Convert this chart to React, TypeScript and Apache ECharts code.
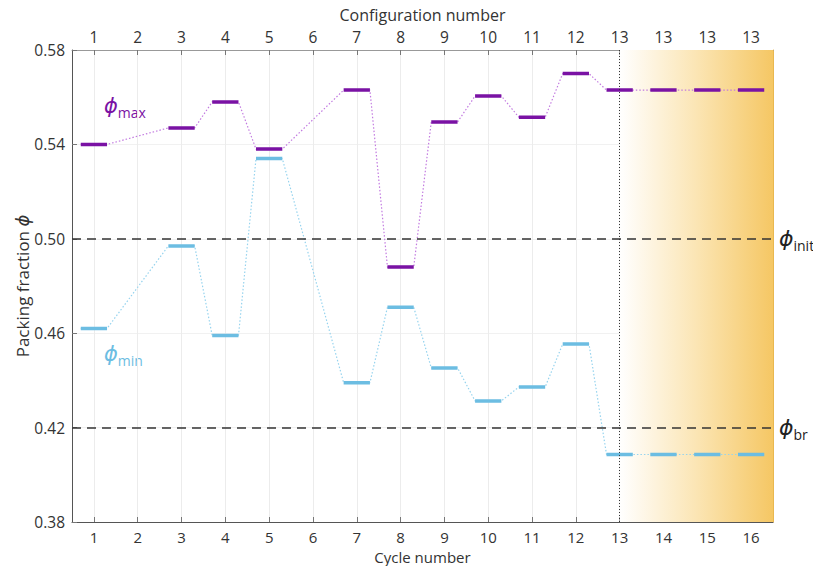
import React, { useEffect, useRef } from "react";
import * as echarts from "echarts";

const cycles = [1, 2, 3, 4, 5, 6, 7, 8, 9, 10, 11, 12, 13, 14, 15, 16];
const configLabels = ["1", "2", "3", "4", "5", "6", "7", "8", "9", "10", "11", "12", "13", "13", "13", "13"];
const phiMax: (number | null)[] = [0.540, null, 0.547, 0.558, 0.538, null, 0.563, 0.488, 0.5495, 0.5605, 0.5515, 0.570, 0.563, 0.563, 0.563, 0.563];
const phiMin: (number | null)[] = [0.462, null, 0.497, 0.459, 0.534, null, 0.439, 0.471, 0.4453, 0.4313, 0.4372, 0.4554, 0.4086, 0.4086, 0.4086, 0.4086];
const yTicks = [0.38, 0.42, 0.46, 0.5, 0.54, 0.58];
const phiInit = 0.5;
const phiBr = 0.42;
const transitionCycle = 13;

const PURPLE = "#7A12A4";
const PURPLE_LIGHT = "#C27AE0";
const BLUE = "#6CBDE2";
const BLUE_LIGHT = "#95D3EE";
const HALF = 0.3;
const FONT = "Open Sans";
const TEXT = "#333333";

function segments(vals: (number | null)[]) {
  const out: any[] = [];
  cycles.forEach((c, i) => {
    const v = vals[i];
    if (v == null) return;
    out.push([c - HALF, v], [c + HALF, v], [c + HALF, "-"]);
  });
  return out;
}
function connectors(vals: (number | null)[]) {
  const out: any[] = [];
  cycles.forEach((c, i) => {
    const v = vals[i];
    if (v == null) return;
    out.push([c - HALF, v], [c + HALF, v]);
  });
  return out;
}

const phiRich = (color: string) => ({
  p: { fontSize: 22, lineHeight: 28, fontStyle: "italic", fontFamily: "DejaVu Sans", color, verticalAlign: "middle" },
  s: { fontSize: 14, lineHeight: 14, fontFamily: FONT, color, verticalAlign: "bottom" },
});
const phiRichFill = (color: string) => ({
  p: { fontSize: 21, lineHeight: 26, fontStyle: "italic", fontFamily: "DejaVu Sans", fill: color, verticalAlign: "middle" },
  s: { fontSize: 14, lineHeight: 14, fontFamily: FONT, fill: color, verticalAlign: "bottom" },
});

export default function App() {
  const ref = useRef<HTMLDivElement>(null);
  useEffect(() => {
    if (!ref.current) return;
    const chart = echarts.init(ref.current, undefined, { renderer: "svg" });
    const xCommon = {
      type: "value",
      min: 0.5,
      max: 16.5,
      axisTick: { show: true, inside: true, length: 5, customValues: cycles, lineStyle: { color: "#777" } },
    };
    chart.setOption({
      animation: false,
      backgroundColor: "#ffffff",
      grid: { left: 72, right: 40, top: 50, bottom: 44, outerBoundsMode: "none", containLabel: false },
      xAxis: [
        {
          ...xCommon,
          position: "bottom",
          name: "Cycle number",
          nameLocation: "middle",
          nameGap: 27,
          nameMoveOverlap: false,
          nameTextStyle: { fontFamily: FONT, fontSize: 15, color: TEXT },
          axisLine: { show: true, lineStyle: { color: "#555", width: 1 } },
          axisLabel: { customValues: cycles, fontFamily: FONT, fontSize: 15, color: TEXT, margin: 7 },
          splitLine: { show: true, lineStyle: { color: "#ececec", width: 1 } },
        },
        {
          ...xCommon,
          position: "top",
          name: "Configuration number",
          nameLocation: "middle",
          nameGap: 27,
          nameMoveOverlap: false,
          nameTextStyle: { fontFamily: FONT, fontSize: 16, color: TEXT },
          axisLine: { show: true, lineStyle: { color: "#999", width: 1 } },
          axisLabel: {
            customValues: cycles,
            fontFamily: FONT,
            fontSize: 15.5,
            color: TEXT,
            margin: 5,
            formatter: (v: number) => configLabels[Math.round(v) - 1] ?? "",
          },
          splitLine: { show: false },
        },
      ],
      yAxis: [
        {
          type: "value",
          min: 0.38,
          max: 0.58,
          name: "Packing fraction {i|ϕ}",
          nameLocation: "middle",
          nameGap: 41,
          nameRotate: 90,
          nameMoveOverlap: false,
          nameTextStyle: {
            fontFamily: FONT,
            fontSize: 17,
            color: TEXT,
            rich: { i: { fontFamily: "DejaVu Sans", fontStyle: "italic", fontSize: 18, color: TEXT } },
          },
          axisLine: { show: true, lineStyle: { color: "#555", width: 1 } },
          axisTick: { show: true, inside: true, length: 5, customValues: yTicks, lineStyle: { color: "#777" } },
          axisLabel: {
            customValues: yTicks,
            fontFamily: FONT,
            fontSize: 15.5,
            color: TEXT,
            margin: 7,
            formatter: (v: number) => v.toFixed(2),
          },
          splitLine: { show: true, lineStyle: { color: "#f1f1f1", width: 1 } },
        },
        {
          type: "value",
          min: 0.38,
          max: 0.58,
          position: "right",
          axisLine: { show: true, lineStyle: { color: "#E9B850", width: 1 } },
          axisTick: { show: false },
          axisLabel: { show: false },
          splitLine: { show: false },
        },
      ],
      graphic: [
        {
          type: "text",
          x: 104,
          y: 93,
          style: { text: "{p|ϕ}{s|max}", rich: phiRichFill(PURPLE) },
        },
        {
          type: "text",
          x: 104,
          y: 341,
          style: { text: "{p|ϕ}{s|min}", rich: phiRichFill(BLUE) },
        },
      ],
      series: [
        {
          type: "line",
          data: connectors(phiMax),
          symbol: "none",
          lineStyle: { color: PURPLE_LIGHT, width: 1.2, type: [1.5, 2] },
          z: 2,
          markArea: {
            silent: true,
            itemStyle: {
              opacity: 1,
              color: new echarts.graphic.LinearGradient(0, 0, 1, 0, [
                { offset: 0, color: "#FFFFFF" },
                { offset: 0.5, color: "#FBE5B4" },
                { offset: 1, color: "#F5C764" },
              ]),
            },
            data: [[{ xAxis: transitionCycle }, { xAxis: 16.5 }]],
          },
        },
        {
          type: "line",
          data: connectors(phiMin),
          symbol: "none",
          lineStyle: { color: BLUE_LIGHT, width: 1.2, type: [1.5, 2] },
          z: 2,
          markLine: {
            silent: true,
            symbol: "none",
            data: [
              {
                yAxis: phiInit,
                lineStyle: { color: "#333", width: 1.5, type: [9, 6] },
                label: { show: true, position: "end", distance: 6, formatter: "{p|ϕ}{s|init}", rich: phiRich("#222") },
              },
              {
                yAxis: phiBr,
                lineStyle: { color: "#333", width: 1.5, type: [9, 6] },
                label: { show: true, position: "end", distance: 6, formatter: "{p|ϕ}{s|br}", rich: phiRich("#222") },
              },
              {
                xAxis: transitionCycle,
                lineStyle: { color: "#333", width: 1, type: [1, 2] },
                label: { show: false },
              },
            ],
          },
        },
        {
          type: "line",
          data: segments(phiMax),
          symbol: "none",
          connectNulls: false,
          lineStyle: { color: PURPLE, width: 3.5, cap: "butt" },
          z: 4,
        },
        {
          type: "line",
          data: segments(phiMin),
          symbol: "none",
          connectNulls: false,
          lineStyle: { color: BLUE, width: 3.5, cap: "butt" },
          z: 4,
        },
      ],
    });
    return () => chart.dispose();
  }, []);
  return <div ref={ref} style={{ width: 813, height: 566, position: "absolute", left: 0, top: 0 }} />;
}
